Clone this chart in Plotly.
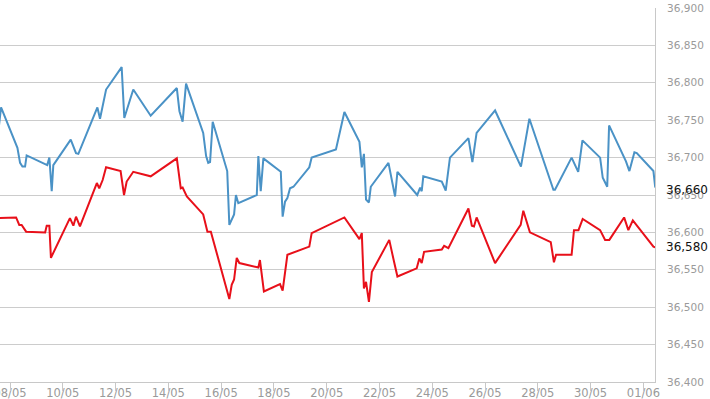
import pandas as pd
import plotly.graph_objects as go

# day offsets from 08/05 and values
blue_days = [-0.49, -0.34, 0.28, 0.38, 0.47, 0.57, 0.63, 1.41, 1.49, 1.58, 1.64, 2.30, 2.50, 2.59,
             3.31, 3.41, 3.64, 4.23, 4.33, 4.67, 5.33, 6.32, 6.42, 6.54, 6.67, 7.32, 7.43, 7.51,
             7.58, 7.68, 8.23, 8.31, 8.49, 8.56, 8.65, 9.35, 9.41, 9.50, 9.60, 10.26, 10.33, 10.42,
             10.51, 10.61, 10.74, 11.34, 11.43, 12.35, 12.67, 13.24, 13.33, 13.41, 13.49, 13.60,
             13.67, 14.34, 14.59, 14.68, 15.43, 15.54, 15.60, 15.66, 16.36, 16.51, 16.67, 17.37,
             17.52, 17.68, 18.38, 19.36, 19.68, 20.34, 20.59, 20.65, 21.28, 21.53, 21.69, 22.36,
             22.46, 22.63, 22.70, 23.34, 23.47, 23.66, 23.75, 24.38, 24.45]
blue_vals = [36721, 36767, 36713, 36693, 36688, 36688, 36703, 36690, 36700, 36655, 36690, 36724, 36706, 36705,
             36767, 36752, 36791, 36821, 36753, 36791, 36756, 36793, 36762, 36748, 36799, 36733, 36702, 36693,
             36694, 36748, 36682, 36610, 36624, 36650, 36639, 36650, 36702, 36655, 36699, 36681, 36621, 36641,
             36646, 36659, 36661, 36687, 36700, 36711, 36761, 36721, 36687, 36705, 36644, 36640,
             36661, 36693, 36648, 36681, 36650, 36660, 36655, 36675, 36668, 36656, 36700, 36726,
             36694, 36733, 36763, 36688, 36752, 36684, 36657, 36657, 36700, 36681, 36723, 36700,
             36673, 36661, 36743, 36695, 36682, 36707, 36706, 36682, 36660]

red_days = [-0.45, 0.23, 0.35, 0.44, 0.61, 1.33, 1.39, 1.49, 1.55, 2.27, 2.40, 2.50, 2.65, 3.29,
            3.38, 3.51, 3.64, 4.19, 4.32, 4.42, 4.67, 5.33, 6.32, 6.47, 6.54, 6.70, 7.32, 7.48,
            7.61, 8.31, 8.40, 8.49, 8.59, 8.69, 9.41, 9.47, 9.62, 10.23, 10.33, 10.51, 11.34, 11.43,
            12.67, 13.24, 13.33, 13.41, 13.49, 13.60, 13.71, 14.37, 14.55, 14.68, 15.41, 15.51,
            15.60, 15.69, 16.36, 16.45, 16.61, 17.37, 17.50, 17.58, 17.68, 18.38, 19.35, 19.45,
            19.70, 20.40, 20.49, 20.61, 20.69, 21.28, 21.37, 21.54, 21.70, 22.36, 22.55, 22.71,
            23.27, 23.43, 23.60, 24.38, 24.45]
red_vals = [36619, 36620, 36610, 36610, 36601, 36600, 36609, 36609, 36566, 36619, 36609, 36621, 36608, 36666,
            36659, 36670, 36687, 36682, 36650, 36668, 36681, 36675, 36699, 36659, 36660, 36648, 36624, 36601,
            36601, 36511, 36530, 36537, 36566, 36559, 36553, 36563, 36521, 36531, 36522, 36570, 36581, 36599,
            36620, 36591, 36599, 36525, 36534, 36507, 36547, 36590, 36561, 36541, 36552, 36565,
            36559, 36574, 36577, 36582, 36579, 36632, 36609, 36608, 36620, 36559, 36610, 36629,
            36600, 36588, 36587, 36560, 36570, 36570, 36603, 36603, 36618, 36603, 36590, 36590,
            36620, 36603, 36616, 36581, 36580]

y_ticks = [36400, 36450, 36500, 36550, 36600, 36650, 36700, 36750, 36800, 36850, 36900]
y_tick_text = ["36,400", "36,450", "36,500", "36,550", "36,600", "36,650", "36,700",
               "36,750", "36,800", "36,850", "36,900"]
x_start_day = -0.38
x_end_day = 24.44

base = pd.Timestamp("2024-05-08")
bx = base + pd.to_timedelta(blue_days, unit="D")
rx = base + pd.to_timedelta(red_days, unit="D")

fig = go.Figure()
fig.add_trace(go.Scatter(x=bx, y=blue_vals, mode="lines",
                         line=dict(color="#4a92c6", width=2), hoverinfo="skip"))
fig.add_trace(go.Scatter(x=rx, y=red_vals, mode="lines",
                         line=dict(color="#e8101a", width=2), hoverinfo="skip"))
# invisible trace for tick-mark overlay axis
fig.add_trace(go.Scatter(x=[bx[0]], y=[blue_vals[0]], xaxis="x2", mode="lines",
                         line=dict(width=0), hoverinfo="skip", showlegend=False))

xr = [base + pd.Timedelta(days=x_start_day), base + pd.Timedelta(days=x_end_day)]

fig.update_layout(
    width=710, height=399,
    margin=dict(l=0, r=55, t=8, b=17, autoexpand=False),
    paper_bgcolor="white", plot_bgcolor="white",
    showlegend=False,
    xaxis=dict(range=xr, type="date", tick0="2024-05-08", dtick=2 * 86400000,
               tickformat="%d/%m", showgrid=False, zeroline=False, automargin=False,
               showline=True, linecolor="#c8c8c8", linewidth=1,
               ticks="", ticklabeloverflow="allow",
               tickfont=dict(family="DejaVu Sans", size=11.5, color="#9a9a9a")),
    xaxis2=dict(range=xr, type="date", tick0="2024-05-08", dtick=2 * 86400000,
                overlaying="x", side="bottom", showgrid=False, zeroline=False, automargin=False,
                showticklabels=False, ticks="outside", ticklen=8, tickcolor="#c8c8c8",
                tickwidth=1, showline=False),
    yaxis=dict(range=[36400, 36900], side="right", tickvals=y_ticks, ticktext=y_tick_text,
               showgrid=True, gridcolor="#cccccc", gridwidth=1, zeroline=False, automargin=False,
               showline=True, linecolor="#c8c8c8", linewidth=1, ticks="",
               ticklabelstandoff=9, ticklabeloverflow="allow",
               tickfont=dict(family="DejaVu Sans", size=10.5, color="#9a9a9a")),
)

fig.add_annotation(x=1, xref="paper", y=blue_vals[-1], yref="y", text="36,660",
                   showarrow=False, xanchor="left", yanchor="middle", xshift=9, yshift=-2,
                   font=dict(family="DejaVu Sans", size=12, color="#111111"))
fig.add_annotation(x=1, xref="paper", y=red_vals[-1], yref="y", text="36,580",
                   showarrow=False, xanchor="left", yanchor="middle", xshift=9,
                   font=dict(family="DejaVu Sans", size=12, color="#111111"))

fig.write_html("out.html", config={"displayModeBar": False},
               post_script="document.body.style.margin='0';")
